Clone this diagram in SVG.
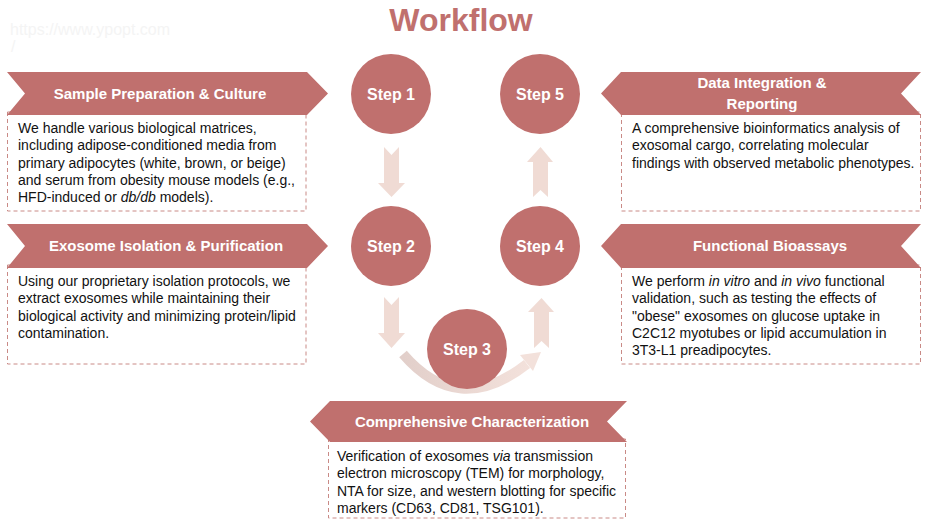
<svg xmlns="http://www.w3.org/2000/svg" width="928" height="527" viewBox="0 0 928 527">
<style>
.banner{fill:#c0706e}
.circle{fill:#c0706e}
.box{fill:#fff;stroke:#c98a86;stroke-width:1;stroke-dasharray:4 3}
.bt{font-family:"Liberation Sans",Arial,sans-serif;font-weight:bold;font-size:15px;fill:#fff;text-anchor:middle}
.st{font-family:"Liberation Sans",Arial,sans-serif;font-weight:bold;font-size:16px;fill:#fff;text-anchor:middle}
.tx{font-family:"Liberation Sans",Arial,sans-serif;font-size:14px;fill:#111}
.arr{fill:#f0dbd4}
.wm{font-family:"Liberation Sans",Arial,sans-serif;font-size:16px;fill:#f4f4f4}
</style>
<defs>
<linearGradient id="arcg" x1="0" y1="0" x2="1" y2="0">
<stop offset="0" stop-color="#e2cfca"/>
<stop offset="1" stop-color="#f3e1db"/>
</linearGradient>
</defs>
<rect width="928" height="527" fill="#fff"/>
<text class="wm" x="10" y="35">https://www.ypopt.com</text>
<text class="wm" x="11" y="52">/</text>
<text x="461" y="31" text-anchor="middle" font-family="'Liberation Sans',Arial,sans-serif" font-weight="bold" font-size="32" fill="#c0706e">Workflow</text>

<g id="connectors">
<path class="arr" d="M384,147 L391.5,155 L399,147 L399,183 L405,183 L391.5,197 L378,183 L384,183 Z"/>
<path class="arr" d="M384,297 L391.5,305 L399,297 L399,333 L405,333 L391.5,348 L378,333 L384,333 Z"/>
<path d="M403,354 Q458,418 527,364" fill="none" stroke="url(#arcg)" stroke-width="10"/>
<path d="M541,352 L533,371 L520,355 Z" fill="#f3e1db"/>
<path class="arr" d="M534,348 L541.5,341 L549,348 L549,312 L554,312 L541.5,298 L528,312 L534,312 Z"/>
<path class="arr" d="M533,197 L540.5,190 L548,197 L548,162 L553,162 L540.5,147 L527,162 L533,162 Z"/>
</g>

<g id="step1"><circle class="circle" cx="391" cy="94" r="40"/><text class="st" x="391" y="100">Step 1</text></g>
<g id="step2"><circle class="circle" cx="391" cy="246" r="40"/><text class="st" x="391" y="252">Step 2</text></g>
<g id="step3"><circle class="circle" cx="467" cy="349" r="40"/><text class="st" x="467" y="355">Step 3</text></g>
<g id="step4"><circle class="circle" cx="540" cy="246" r="40"/><text class="st" x="540" y="252">Step 4</text></g>
<g id="step5"><circle class="circle" cx="540" cy="94" r="40"/><text class="st" x="540" y="100">Step 5</text></g>

<g id="sample-preparation">
<rect class="box" x="7.5" y="112" width="298.5" height="99"/>
<path class="banner" d="M7,72 L307,72 L328,93.5 L307,115 L7,115 L25,93.5 Z"/>
<text class="bt" x="160" y="99">Sample Preparation &amp; Culture</text>
<text class="tx" x="18" y="133">We handle various biological matrices,</text>
<text class="tx" x="18" y="150.3">including adipose-conditioned media from</text>
<text class="tx" x="18" y="167.6">primary adipocytes (white, brown, or beige)</text>
<text class="tx" x="18" y="184.9">and serum from obesity mouse models (e.g.,</text>
<text class="tx" x="18" y="202.2">HFD-induced or <tspan font-style="italic">db/db</tspan> models).</text>
</g>

<g id="exosome-isolation">
<rect class="box" x="7.5" y="265" width="298.5" height="99"/>
<path class="banner" d="M7,224 L307,224 L328,246 L307,268 L7,268 L25,246 Z"/>
<text class="bt" x="166" y="251">Exosome Isolation &amp; Purification</text>
<text class="tx" x="18" y="286">Using our proprietary isolation protocols, we</text>
<text class="tx" x="18" y="303.3">extract exosomes while maintaining their</text>
<text class="tx" x="18" y="320.6">biological activity and minimizing protein/lipid</text>
<text class="tx" x="18" y="337.9">contamination.</text>
</g>

<g id="characterization">
<rect class="box" x="328.5" y="439" width="297" height="79"/>
<path class="banner" d="M627,401 L330,401 L310,421.5 L330,442 L627,442 L607,421.5 Z"/>
<text class="bt" x="472" y="427">Comprehensive Characterization</text>
<text class="tx" x="337" y="461">Verification of exosomes <tspan font-style="italic">via</tspan> transmission</text>
<text class="tx" x="337" y="478.3">electron microscopy (TEM) for morphology,</text>
<text class="tx" x="337" y="495.6">NTA for size, and western blotting for specific</text>
<text class="tx" x="337" y="512.9">markers (CD63, CD81, TSG101).</text>
</g>

<g id="functional-bioassays">
<rect class="box" x="621.5" y="265" width="299" height="99"/>
<path class="banner" d="M921,224 L621,224 L601,246 L621,268 L921,268 L901,246 Z"/>
<text class="bt" x="770" y="251">Functional Bioassays</text>
<text class="tx" x="632" y="286">We perform <tspan font-style="italic">in vitro</tspan> and <tspan font-style="italic">in vivo</tspan> functional</text>
<text class="tx" x="632" y="303.3">validation, such as testing the effects of</text>
<text class="tx" x="632" y="320.6">"obese" exosomes on glucose uptake in</text>
<text class="tx" x="632" y="337.9">C2C12 myotubes or lipid accumulation in</text>
<text class="tx" x="632" y="355.2">3T3-L1 preadipocytes.</text>
</g>

<g id="data-integration">
<rect class="box" x="621.5" y="112" width="299" height="99"/>
<path class="banner" d="M921,72 L621,72 L601,93.5 L621,115 L921,115 L901,93.5 Z"/>
<text class="bt" x="762" y="88">Data Integration &amp;</text>
<text class="bt" x="762" y="109">Reporting</text>
<text class="tx" x="632" y="133">A comprehensive bioinformatics analysis of</text>
<text class="tx" x="632" y="150.3">exosomal cargo, correlating molecular</text>
<text class="tx" x="632" y="167.6">findings with observed metabolic phenotypes.</text>
</g>
</svg>
